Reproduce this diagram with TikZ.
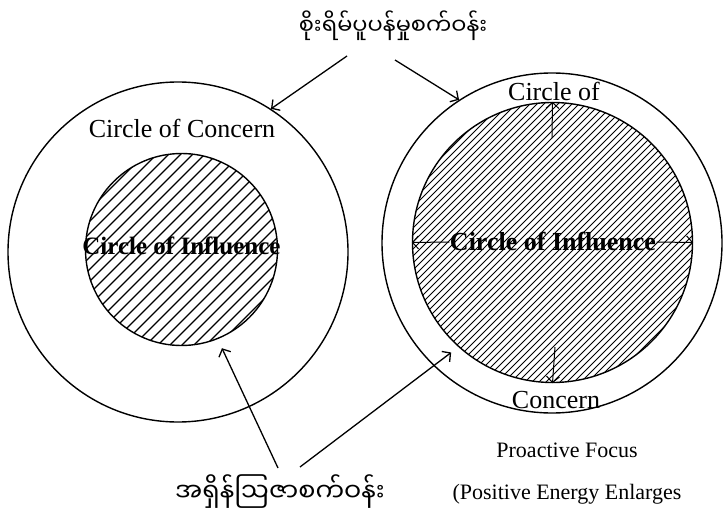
\documentclass[tikz,border=0pt]{standalone}
\usepackage{fontspec}
\setmainfont{Liberation Serif}
\newfontfamily\mmfont[Script=Myanmar]{Noto Sans Myanmar UI}
\usetikzlibrary{arrows, arrows.meta, positioning, calc}
\tikzset{
  >={Straight Barb[length=6pt,width=13pt]}, % open arrow heads as in the scan
  every node/.style={inner sep=0pt}, % text sits tight on its anchor
  ring/.style={draw, circle, line width=1.4pt}, % the circles
  words/.style={font=\fontsize{26}{30}\selectfont}, % plain labels
  boldwords/.style={font=\fontsize{26}{30}\selectfont\bfseries}, % inner labels
  burmese/.style={font=\fontsize{24}{30}\selectfont\mmfont}, % Myanmar labels
}

\begin{document}
\begin{tikzpicture}[x=1pt, y=-1pt, line width=1.3pt,
    hatch_l/.style={line width=1.1pt}, hatch_r/.style={line width=0.9pt}]
  \useasboundingbox (0,0) rectangle (725,513);

  % left: concern around a small influence
  \node[ring, minimum size=340pt] (concern_l) at (178,252) {};
  \node[ring, minimum size=192pt] (influence_l) at (181.5,249.5) {};
  \begin{scope}
    \clip (influence_l.center) circle (96pt);
    \foreach \k in {-144,-132,...,144}
      \draw[hatch_l] ($(influence_l.center)+(\k-140,140)$) -- ++(280,-280);
  \end{scope}

  % right: influence grown almost to the concern
  \node[ring, minimum size=340pt] (concern_r) at (552,243) {};
  \node[ring, minimum size=280pt] (influence_r) at (552.5,242.5) {};
  \begin{scope}
    \clip (influence_r.center) circle (140pt);
    \foreach \k in {-203,-196,...,203}
      \draw[hatch_r] ($(influence_r.center)+(\k-200,200)$) -- ++(400,-400);
  \end{scope}

  \node[words] (concern_txt_l) at (182,128) {Circle of Concern};
  \node[boldwords, font=\fontsize{25}{30}\selectfont\bfseries]
    (influence_txt_l) at (181.5,246) {Circle of Influence};
  \node[words] (concern_top) at (554,91) {Circle of};
  \node[words] (concern_bot) at (556,400) {Concern};
  \node[boldwords] (influence_txt_r) at (553,242) {Circle of Influence};
  \node[words, font=\fontsize{22}{26}\selectfont] (proactive) at (567,450)
    {Proactive Focus};
  \node[words, font=\fontsize{22}{26}\selectfont, below=26pt of proactive]
    (positive) {(Positive Energy Enlarges};

  \node[burmese, font=\fontsize{22.5}{30}\selectfont\mmfont] (worry)
    at (393,26) {စိုးရိမ်ပူပန်မှုစက်ဝန်း};
  \node[burmese, font=\fontsize{25.5}{30}\selectfont\mmfont] (sway)
    at (280,492) {အရှိန်ဩဇာစက်ဝန်း};

  \coordinate (worry_l) at (347,56);
  \coordinate (worry_r) at (395,60);
  \coordinate (sway_l) at (278,468);
  \coordinate (sway_r) at (300,467);
  \coordinate (grow_up) at (552,138);
  \coordinate (grow_down) at (555,347);

  \draw[->] (worry_l) -- (concern_l.57);
  \draw[->] (worry_r) -- (concern_r.123);
  \draw[->, shorten >=10pt] (sway_l) -- (influence_l.-68);
  \draw[->, shorten >=9pt] (sway_r) -- (influence_r.228);

  \draw[->, line width=1pt] (influence_txt_r.west) -- (influence_r.west);
  \draw[->, line width=1pt] (influence_txt_r.east) -- (influence_r.east);
  \draw[->, line width=1pt] (grow_up) -- (influence_r.north);
  \draw[->, line width=1pt] (grow_down) -- (influence_r.south);
\end{tikzpicture}
\end{document}
